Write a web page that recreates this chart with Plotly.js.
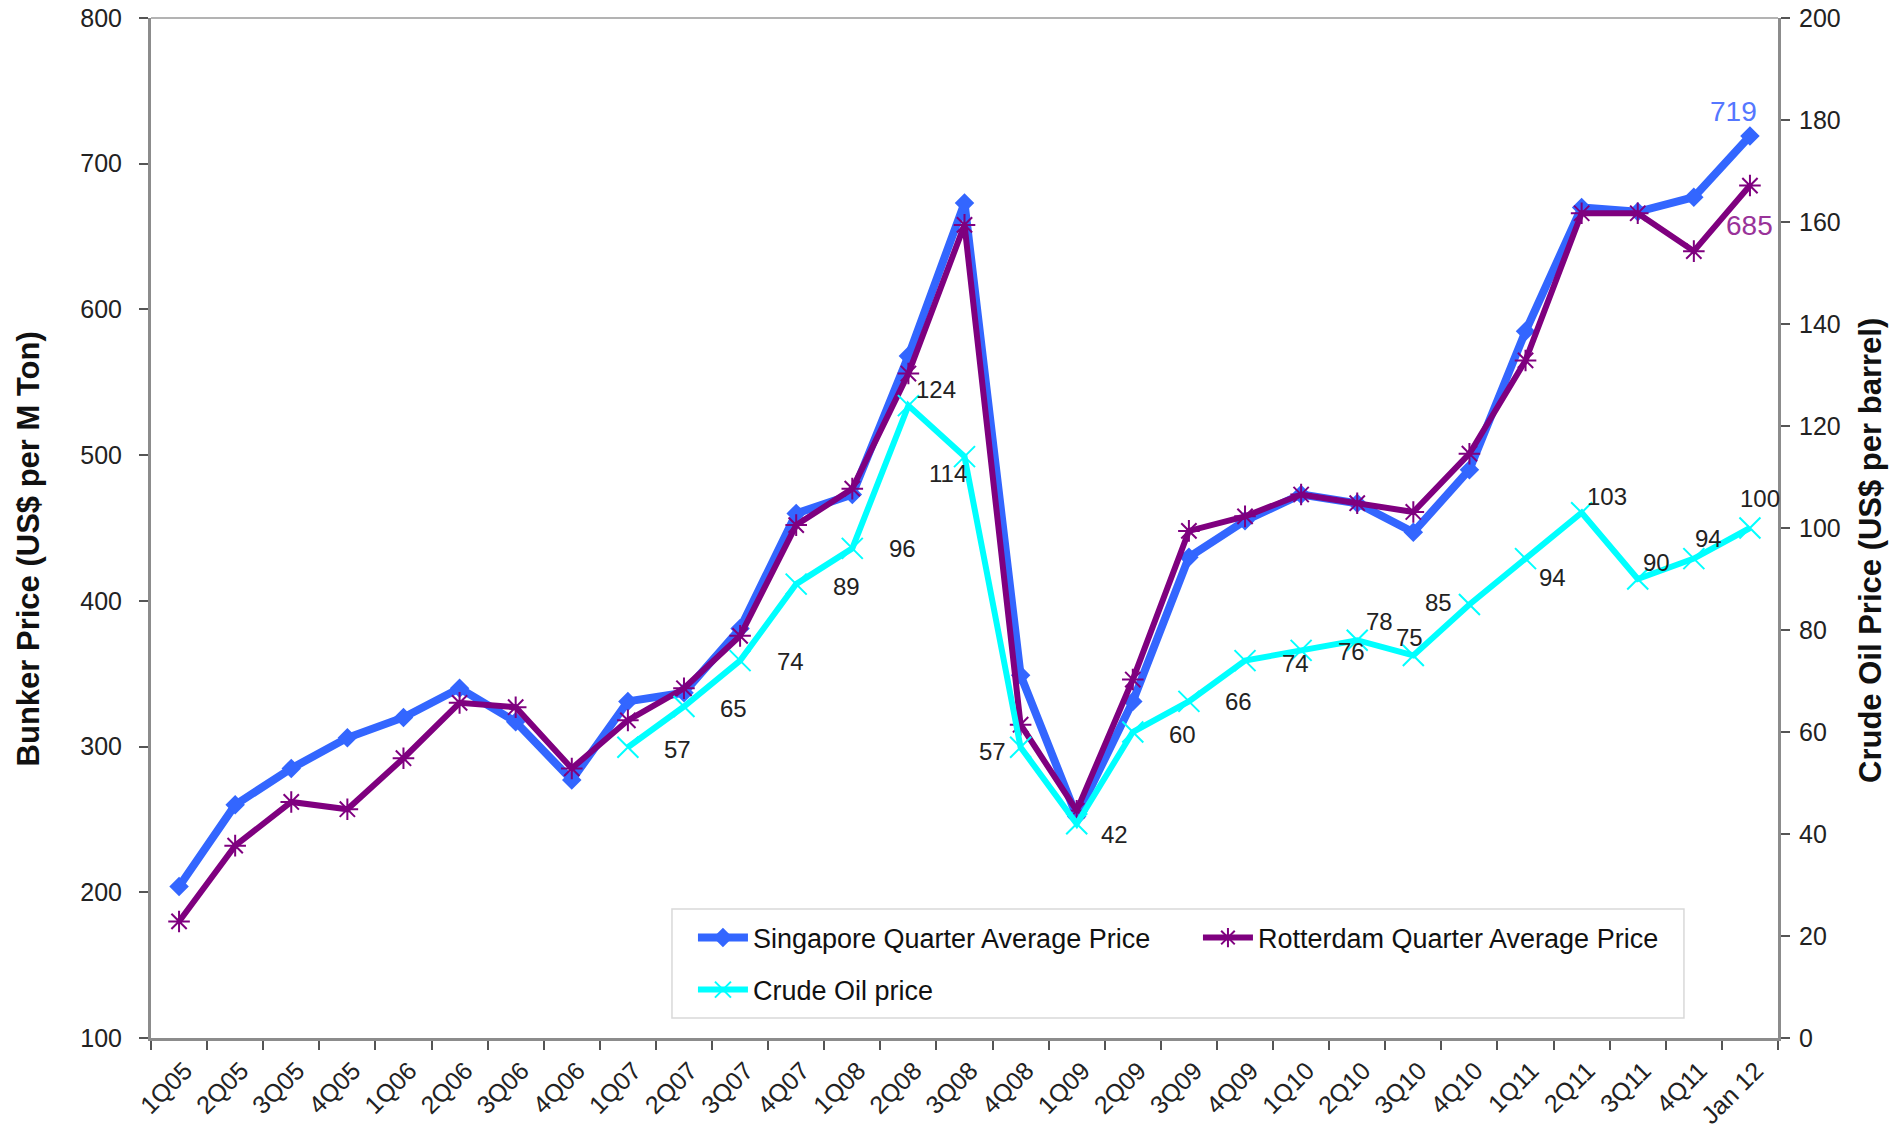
<!DOCTYPE html>
<html>
<head>
<meta charset="utf-8">
<script src="https://cdn.plot.ly/plotly-3.0.1.min.js"></script>
<style>
  html, body { margin: 0; padding: 0; background: #ffffff; }
  #chart { width: 1893px; height: 1131px; }
</style>
</head>
<body>
<div id="chart"></div>
<script>
// ---- Data ----
const categories = ['1Q05','2Q05','3Q05','4Q05','1Q06','2Q06','3Q06','4Q06',
  '1Q07','2Q07','3Q07','4Q07','1Q08','2Q08','3Q08','4Q08',
  '1Q09','2Q09','3Q09','4Q09','1Q10','2Q10','3Q10','4Q10',
  '1Q11','2Q11','3Q11','4Q11','Jan 12'];

const singapore = [204,260,285,306,320,340,317,277,331,337,381,460,473,568,673,349,
  252,331,430,455,473,467,447,490,585,670,667,677,719];

const rotterdam = [180,232,262,257,292,330,327,285,318,340,376,452,477,556,658,315,
  256,346,448,458,473,467,461,501,565,666,666,640,685];

const crude = [null,null,null,null,null,null,null,null,
  57,65,74,89,96,124,114,57,42,60,66,74,76,78,75,85,94,103,90,94,100];

const seriesNames = ['Singapore Quarter Average Price','Rotterdam Quarter Average Price','Crude Oil price'];
const axisTitles = ['Bunker Price (US$ per M Ton)', 'Crude Oil Price (US$ per barrel)'];

// label placement offsets (px) for the crude oil value labels, per category
const crudeLabelShift = {
  '1Q07':[50,-2],'2Q07':[50,-2],'3Q07':[50,-1],'4Q07':[50,-2],'1Q08':[50,0],
  '2Q08':[28,16],'3Q08':[-17,-17],'4Q08':[-28,-4],'1Q09':[38,-11],'2Q09':[50,-2],
  '3Q09':[50,0],'4Q09':[50,-3],'1Q10':[50,-1],'2Q10':[22,19],'3Q10':[-4,18],
  '4Q10':[-31,2],'1Q11':[27,-19],'2Q11':[25,16],'3Q11':[19,17],'4Q11':[15,20],
  'Jan 12':[10,30]
};

const FONT = 'Liberation Sans, Arial, Helvetica, sans-serif';
const BLUE = '#3366ff', PURPLE = '#7f007f', CYAN = '#00ffff';

const traces = [
  {
    x: categories, y: singapore, name: seriesNames[0], type: 'scatter', mode: 'lines+markers',
    line: {color: BLUE, width: 8},
    marker: {symbol: 'diamond', size: 15, color: BLUE},
    legend: 'legend', yaxis: 'y', hoverinfo: 'x+y'
  },
  {
    x: categories, y: rotterdam, name: seriesNames[1], type: 'scatter', mode: 'lines+markers',
    line: {color: PURPLE, width: 6},
    marker: {symbol: 'asterisk-open', size: 18, color: PURPLE, line: {color: PURPLE, width: 2}},
    legend: 'legend', yaxis: 'y', hoverinfo: 'x+y'
  },
  {
    x: categories, y: crude, name: seriesNames[2], type: 'scatter', mode: 'lines+markers',
    line: {color: CYAN, width: 6},
    marker: {symbol: 'x-thin-open', size: 21, color: CYAN, line: {color: CYAN, width: 2}},
    legend: 'legend2', yaxis: 'y2', connectgaps: false, hoverinfo: 'x+y'
  }
];

const annotations = [];
categories.forEach((c, i) => {
  if (crude[i] === null) return;
  const s = crudeLabelShift[c] || [40, 0];
  annotations.push({
    x: c, y: crude[i], xref: 'x', yref: 'y2', text: String(crude[i]),
    showarrow: false, xshift: s[0], yshift: s[1],
    font: {family: FONT, size: 24, color: '#222222'}
  });
});
const last = categories.length - 1;
annotations.push({
  x: categories[last], y: singapore[last], xref: 'x', yref: 'y', text: String(singapore[last]),
  showarrow: false, xshift: -16, yshift: 25, font: {family: FONT, size: 28, color: '#5577ff'}
});
annotations.push({
  x: categories[last], y: rotterdam[last], xref: 'x', yref: 'y', text: String(rotterdam[last]),
  showarrow: false, xshift: 0, yshift: -40, font: {family: FONT, size: 28, color: '#993399'}
});
// axis titles
annotations.push({
  x: 0, y: 0.479, xref: 'paper', yref: 'paper', xanchor: 'center', yanchor: 'middle',
  xshift: -123, textangle: -90, showarrow: false, text: axisTitles[0],
  font: {family: FONT, size: 31, weight: 'bold', color: '#111'}
});
annotations.push({
  x: 1, y: 0.4775, xref: 'paper', yref: 'paper', xanchor: 'center', yanchor: 'middle',
  xshift: 93, textangle: -90, showarrow: false, text: axisTitles[1],
  font: {family: FONT, size: 31, weight: 'bold', color: '#111'}
});

const axisLine = '#8c8c8c';
const tickFont = {family: FONT, size: 25, color: '#222'};
const layout = {
  width: 1893, height: 1131,
  margin: {l: 151, r: 115, t: 18, b: 93, pad: 0},
  paper_bgcolor: '#ffffff', plot_bgcolor: '#ffffff',
  showlegend: true,
  font: {family: FONT, color: '#222222'},
  xaxis: {
    type: 'category', range: [-0.5, categories.length - 0.5],
    tickson: 'boundaries', ticks: 'outside', ticklen: 9, tickwidth: 1.5, tickcolor: '#555',
    tickangle: -45, tickfont: tickFont, ticklabelstandoff: 5, ticklabelshift: 6,
    showline: true, linecolor: axisLine, linewidth: 3, showgrid: false, zeroline: false,
    fixedrange: true
  },
  yaxis: {
    range: [100, 800], dtick: 100, ticks: 'outside', ticklen: 9, tickwidth: 1.5, tickcolor: '#555',
    tickfont: tickFont, ticklabelstandoff: 12,
    showline: true, linecolor: axisLine, linewidth: 3, showgrid: false, zeroline: false,
    automargin: false
  },
  yaxis2: {
    overlaying: 'y', side: 'right', range: [0, 200], dtick: 20,
    ticks: 'outside', ticklen: 9, tickwidth: 1.5, tickcolor: '#555',
    tickfont: tickFont, ticklabelstandoff: 4,
    showline: true, linecolor: axisLine, linewidth: 3, showgrid: false, zeroline: false,
    automargin: false
  },
  legend: {
    orientation: 'h', x: 0.3331, xanchor: 'left', y: 0.098, yanchor: 'middle',
    entrywidth: 440, itemwidth: 50, bgcolor: 'rgba(0,0,0,0)', borderwidth: 0,
    font: {family: FONT, size: 27, color: '#111'}
  },
  legend2: {
    orientation: 'h', x: 0.3331, xanchor: 'left', y: 0.047, yanchor: 'middle',
    itemwidth: 50, bgcolor: 'rgba(0,0,0,0)', borderwidth: 0,
    font: {family: FONT, size: 27, color: '#111'}
  },
  shapes: [
    {type: 'rect', xref: 'paper', yref: 'paper', x0: 0.3202, x1: 0.9422, y0: 0.0196, y1: 0.1265,
      line: {color: '#d9d9d9', width: 1.5}, fillcolor: '#ffffff', layer: 'below'},
    {type: 'line', xref: 'paper', yref: 'paper', x0: 0, x1: 1, y0: 1, y1: 1,
      line: {color: '#9a9a9a', width: 1.5}}
  ],
  annotations: annotations
};

Plotly.newPlot('chart', traces, layout, {displayModeBar: false, responsive: false});
</script>
</body>
</html>
